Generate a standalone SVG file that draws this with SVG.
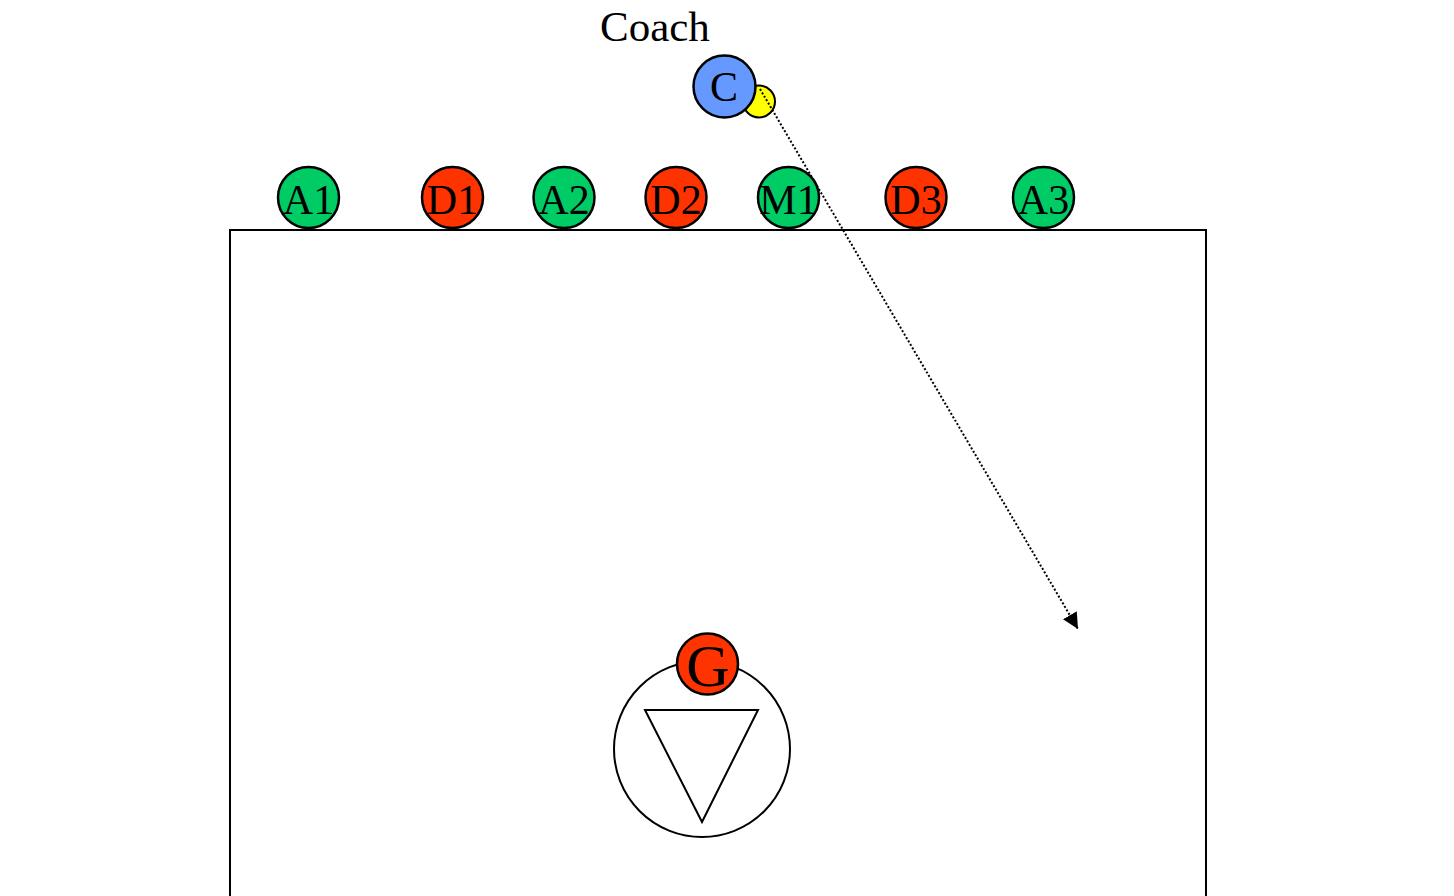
<svg xmlns="http://www.w3.org/2000/svg" width="1454" height="896" viewBox="0 0 1454 896">
<style>
.p{stroke:#000;stroke-width:2.5}
.g{fill:#00CC66}
.r{fill:#FF3300}
.t{font-family:"Liberation Serif",serif;font-size:42px;text-anchor:middle;fill:#000}
</style>
<defs>
<marker id="ah" markerWidth="16" markerHeight="16" refX="10" refY="5" orient="auto" markerUnits="userSpaceOnUse" viewBox="0 0 10 10">
<path d="M0,0 L10,5 L0,10 z" fill="#000"/>
</marker>
</defs>
<rect width="1454" height="896" fill="#fff"/>
<g id="field"><rect x="230" y="230" width="976" height="700" fill="none" stroke="#000" stroke-width="2"/></g>
<g id="goal">
<circle cx="702" cy="749" r="88" fill="#fff" stroke="#000" stroke-width="2"/>
<polygon points="645,710 758,710 702,822" fill="#fff" stroke="#000" stroke-width="2"/>
</g>
<g id="G"><circle class="p r" cx="707.5" cy="664" r="30.5"/><text class="t" x="708" y="686" style="font-size:60px">G</text></g>
<g id="coach-label"><text x="600" y="41" style="font-family:'Liberation Serif',serif;font-size:43px">Coach</text></g>
<g id="ball"><circle cx="759" cy="101.5" r="16" fill="#FFFF00" stroke="#000" stroke-width="2"/></g>
<g id="connectors"><line x1="760" y1="89" x2="1078" y2="629" stroke="#000" stroke-width="2" stroke-dasharray="2,2" marker-end="url(#ah)"/></g>
<g id="C"><circle cx="724.5" cy="86.5" r="31" fill="#6699FF" stroke="#000" stroke-width="2.5"/><text class="t" x="724" y="101">C</text></g>
<g id="A1"><circle class="p g" cx="308.5" cy="197.5" r="30.5"/><text class="t" x="308.5" y="214">A1</text></g>
<g id="D1"><circle class="p r" cx="452.5" cy="197.5" r="30.5"/><text class="t" x="452.5" y="214">D1</text></g>
<g id="A2"><circle class="p g" cx="564" cy="197.5" r="30.5"/><text class="t" x="564" y="214">A2</text></g>
<g id="D2"><circle class="p r" cx="676" cy="197.5" r="30.5"/><text class="t" x="676" y="214">D2</text></g>
<g id="M1"><circle class="p g" cx="788.5" cy="197.5" r="30.5"/><text class="t" x="788.5" y="214">M1</text></g>
<g id="D3"><circle class="p r" cx="916" cy="197.5" r="30.5"/><text class="t" x="916" y="214">D3</text></g>
<g id="A3"><circle class="p g" cx="1043.5" cy="197.5" r="30.5"/><text class="t" x="1043.5" y="214">A3</text></g>
</svg>
